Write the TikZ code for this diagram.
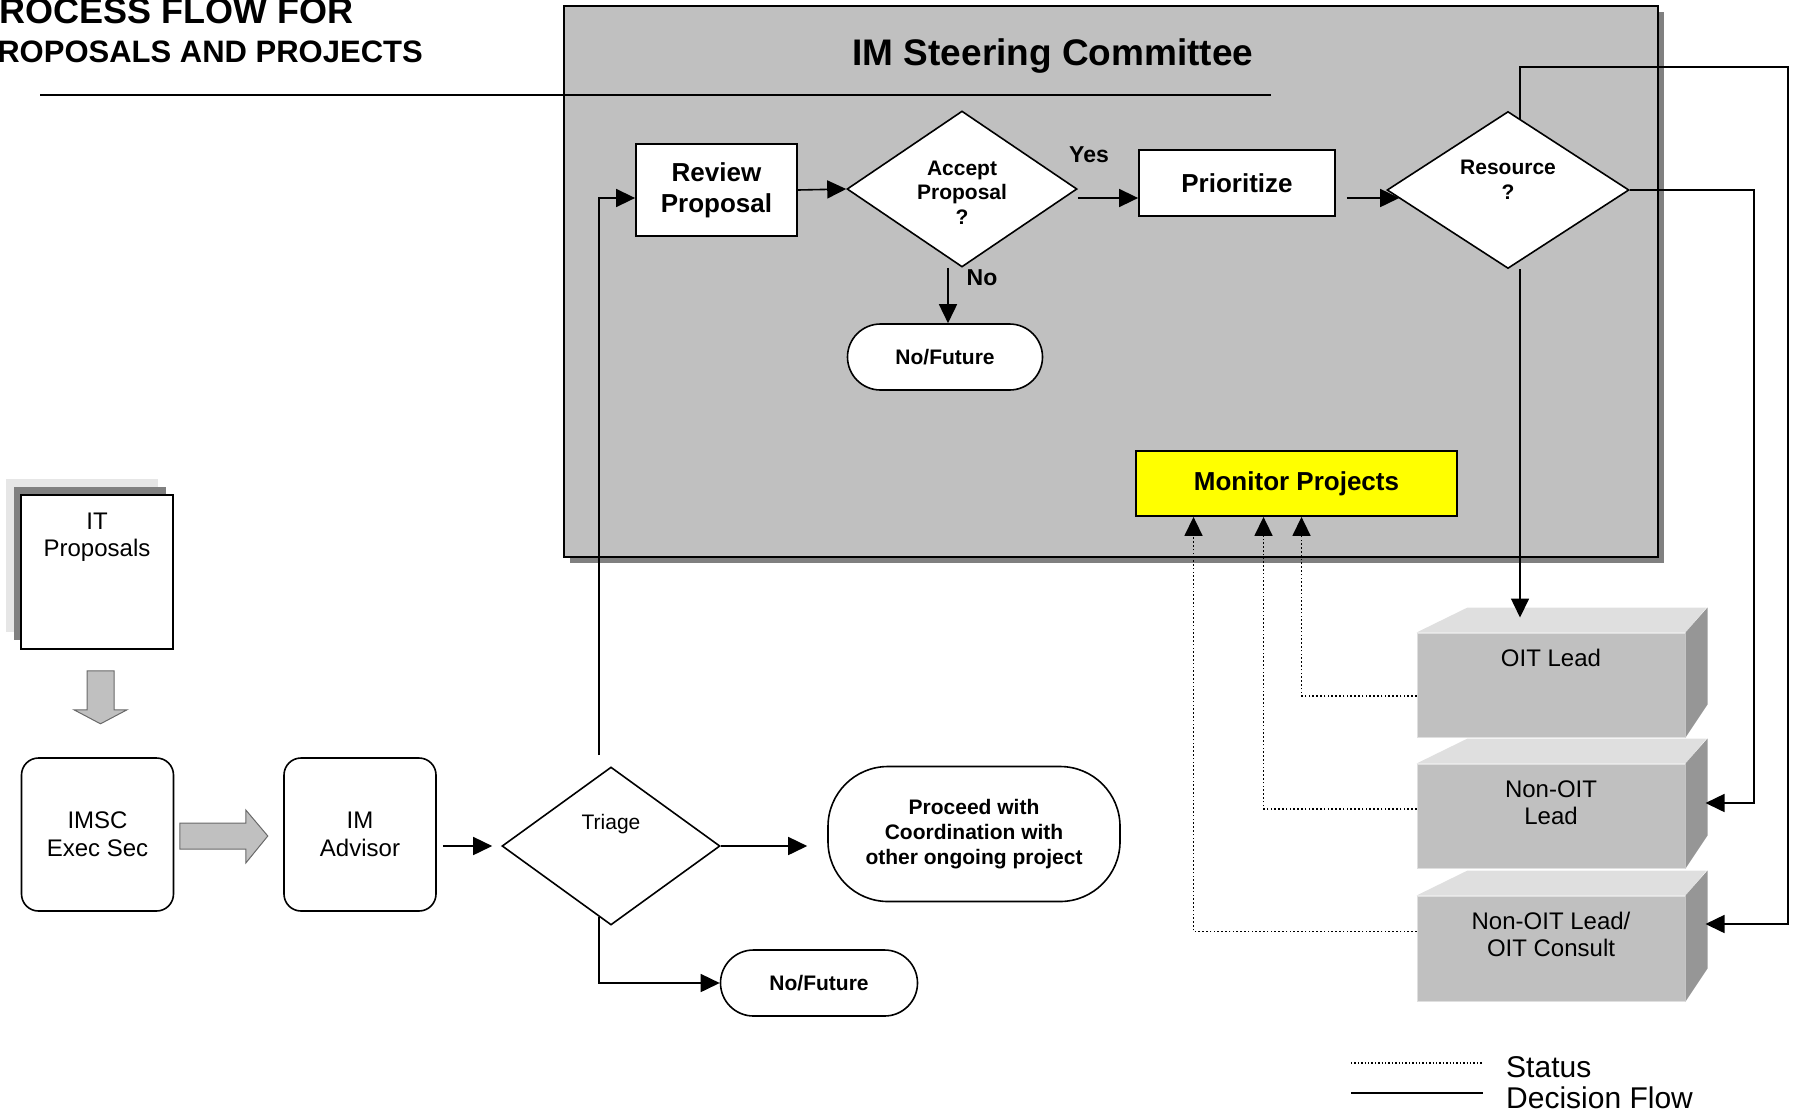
\documentclass[tikz,border=0pt]{standalone}
\usepackage{fontspec}
\setmainfont{Liberation Sans}
\usetikzlibrary{arrows.meta,shapes.geometric,shadows}

\definecolor{panelgray}{HTML}{C0C0C0}
\definecolor{shadegray}{HTML}{808080}
\definecolor{lightface}{HTML}{DFDFDF}
\definecolor{darkface}{HTML}{969696}
\definecolor{pagegray}{HTML}{E6E6E6}
\definecolor{monyellow}{HTML}{FFFF00}

\begin{document}
\begin{tikzpicture}[x=1pt,y=-1pt]
\tikzset{procbox/.style = {draw, fill=white, line width=1.8pt, align=center, font=\bfseries\fontsize{26}{31}\selectfont}}
\tikzset{decide/.style = {diamond, draw, fill=white, line width=1.6pt, inner sep=0pt, align=center, font=\bfseries\fontsize{21}{24.5}\selectfont}}
\tikzset{endbox/.style = {draw, fill=white, rounded corners=33pt, line width=1.6pt, align=center, font=\bfseries\fontsize{21}{25}\selectfont}}
\tikzset{softbox/.style = {draw, fill=white, rounded corners=17pt, line width=1.6pt, minimum width=152pt, minimum height=153pt, align=center, font=\fontsize{24}{28}\selectfont}}
\tikzset{leadface/.style = {fill=panelgray, draw=lightface, line width=1pt, minimum width=268pt, minimum height=104pt, inner sep=0pt}}
\tikzset{plain/.style = {align=center, inner sep=0pt, font=\fontsize{24}{27}\selectfont}}
\tikzset{flow/.style = {-{Triangle[length=19pt,width=18pt]}, line width=1.6pt}}
\tikzset{status/.style = {flow, dash pattern=on 1.6pt off 2.2pt}}
\tikzset{fatarrow/.style = {fill=panelgray, draw=darkface!70!black, line width=1pt}}
\useasboundingbox (0,0) rectangle (1795,1112);

% heading
\node[anchor=base east, inner sep=0pt, font=\bfseries\fontsize{36}{36}\selectfont] (title1) at (354,23) {ROCESS FLOW FOR};
\node[anchor=base east, inner sep=0pt, font=\bfseries\fontsize{31}{31}\selectfont] (title2) at (423,62) {ROPOSALS AND PROJECTS};

% steering committee panel
\node[draw, fill=panelgray, line width=1.8pt, minimum width=1094pt, minimum height=551pt,
  drop shadow={shadow xshift=6pt,shadow yshift=-6pt,fill=shadegray,opacity=1}] (steer) at (1111,281.5) {};
\node[font=\bfseries\fontsize{37}{37}\selectfont] (steer-title) at (1053,56) {IM Steering Committee};
\draw[line width=2pt] (40,95) -- (1271,95);

\node[procbox, minimum width=161pt, minimum height=92pt] (review) at (716.5,190) {Review\\Proposal};
\node[decide, minimum width=230pt, minimum height=156pt] (accept) at (962,189) {};
\node[plain, font=\bfseries\fontsize{21}{24.5}\selectfont] (accept-t) at (962,192.5) {Accept\\Proposal\\?};
\node[procbox, minimum width=196pt, minimum height=66pt] (prio) at (1237,183) {Prioritize};
\node[decide, minimum width=242pt, minimum height=157pt] (res) at (1508,190) {};
\node[plain, font=\bfseries\fontsize{21}{24.5}\selectfont] (res-t) at (1508,180) {Resource\\?};
\node[endbox, minimum width=195pt, minimum height=66pt] (nofut1) at (945,357) {No/Future};
\node[draw, fill=monyellow, line width=1.8pt, minimum width=321pt, minimum height=65pt,
  font=\bfseries\fontsize{26}{30}\selectfont] (monitor) at (1296.5,483.5) {Monitor Projects};
\node[font=\bfseries\fontsize{23}{23}\selectfont] (yes) at (1089,155) {Yes};
\node[font=\bfseries\fontsize{23}{23}\selectfont] (no) at (982,278) {No};

% proposals in
\node[fill=pagegray, minimum width=152pt, minimum height=153pt] (itp-back) at (82,555.5) {};
\node[fill=shadegray, minimum width=152pt, minimum height=153pt] (itp-mid) at (90,563.5) {};
\node[draw, fill=white, line width=1.6pt, minimum width=152pt, minimum height=154pt] (itp) at (97,572) {};
\node[plain] (itp-t) at (97,537) {IT\\Proposals};
\node[softbox] (imsc) at (97.5,834.5) {IMSC\\Exec Sec};
\node[softbox] (advisor) at (360,834.5) {IM\\Advisor};
\node[decide, minimum width=218pt, minimum height=158pt] (triage) at (611,846) {};
\node[plain, font=\fontsize{21}{24}\selectfont] (triage-t) at (611,824) {Triage};
\node[endbox, rounded corners=60pt, minimum width=292pt, minimum height=135pt] (proceed) at (974,834)
  {Proceed with\\Coordination with\\other ongoing project};
\node[endbox, minimum width=197pt, minimum height=66pt] (nofut2) at (819,983) {No/Future};

% lead boxes
\node[leadface] (oit) at (1551,685) {};
\node[leadface] (non) at (1551,816) {};
\node[leadface, minimum height=105pt] (nonc) at (1551,948.5) {};
\foreach \b in {oit,non,nonc} {
  \fill[lightface] (\b.north west) -- ++(51,-25) -- ++(239,0) -- (\b.north east) -- cycle;
  \fill[darkface] (\b.north east) -- ++(22,-25) -- ([shift={(22pt,33pt)}]\b.south east) -- (\b.south east) -- cycle;
}
\node[plain] (oit-t) at (1551,658) {OIT Lead};
\node[plain] (non-t) at (1551,803) {Non-OIT\\Lead};
\node[plain] (nonc-t) at (1551,934) {Non-OIT Lead/\\OIT Consult};

% block arrows
\coordinate (dn) at ([xshift=3.5pt,yshift=-21pt]itp.south);
\draw[fatarrow] (dn) ++(-13.5,0) -- ++(27,0) -- ++(0,39) -- ++(13,0) -- ++(-26.5,14) -- ++(-26.5,-14) -- ++(13,0) -- cycle;
\coordinate (rt) at ([xshift=5.5pt,yshift=-1.5pt]imsc.east);
\draw[fatarrow] (rt) ++(0,-13) -- ++(66,0) -- ++(0,-13) -- ++(22,26) -- ++(-22,27) -- ++(0,-14) -- ++(-66,0) -- cycle;

% decision flow
\draw[flow] ([xshift=6pt]advisor.east |- triage.west) -- ([xshift=-9pt]triage.west);
\draw[flow] (triage.east) -- ([xshift=-20pt]triage.east -| proceed.west);
\draw[flow] ([xshift=-12pt,yshift=9pt]triage.south) |- (nofut2.west);
\draw[flow] ([xshift=-12pt,yshift=11pt]triage.north) |- ([yshift=-8pt]review.west);
\draw[flow] (review.east) -- (accept.west);
\draw[flow] ([yshift=-9pt]accept.east) -- ([yshift=-9pt]accept.east -| prio.west);
\draw[flow] ([xshift=-14pt]accept.south) -- ([xshift=-14pt]accept.south |- nofut1.north);
\draw[flow] ([xshift=11pt,yshift=-15pt]prio.east) -- ([xshift=13pt,yshift=-8pt]res.west);
\coordinate (oit-top) at ([yshift=15pt]oit.north);
\draw[flow] ([xshift=12pt]res.south) -- ([xshift=12pt]res.south |- oit-top);
\coordinate (non-in) at ([xshift=20pt,yshift=13pt]non.east);
\coordinate (nonc-in) at ([xshift=20pt,yshift=24.5pt]nonc.east);
\coordinate (rt-lo) at (1754,803);
\coordinate (rt-hi) at (1788,67);
\draw[flow] (res.east) -| (rt-lo) -- (non-in);
\draw[flow] ([xshift=12pt,yshift=-8pt]res.north) |- (rt-hi) |- (nonc-in);

% status
\draw[status] ([yshift=-11pt]oit.west) -| ([xshift=5pt]monitor.south);
\draw[status] ([yshift=7pt]non.west) -| ([xshift=-33pt]monitor.south);
\draw[status] ([yshift=17pt]nonc.west) -| ([xshift=-103pt]monitor.south);

% legend
\node[anchor=west, inner sep=0pt, font=\fontsize{30}{30}\selectfont] (leg-status) at (1506,1067) {Status};
\node[anchor=west, inner sep=0pt, font=\fontsize{30}{30}\selectfont] (leg-flow) at (1506,1098) {Decision Flow};
\draw[line width=1.4pt, dash pattern=on 1.4pt off 2pt] (1351,1063) -- (1483,1063);
\draw[line width=1.6pt] (1351,1093) -- (1483,1093);
\end{tikzpicture}
\end{document}
